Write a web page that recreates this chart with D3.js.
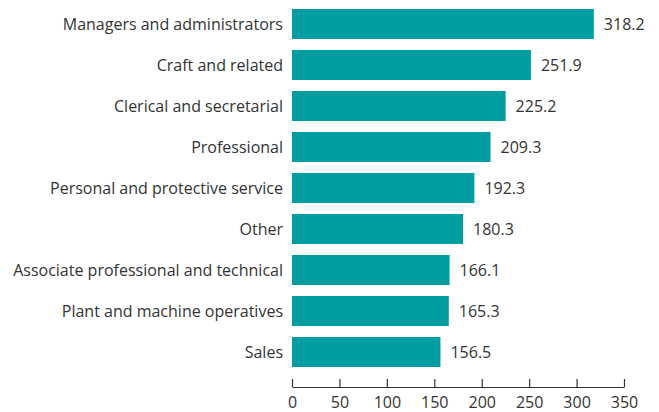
<!DOCTYPE html>
<html>
<head>
<meta charset="utf-8">
<script src="https://cdn.jsdelivr.net/npm/d3@7"></script>
<style>
  html, body { margin: 0; padding: 0; background: #fff; }
  svg { display: block; }
  text { font-family: "Open Sans", "Noto Sans", sans-serif; fill: #333; }
</style>
</head>
<body>
<svg id="chart" width="659" height="412"></svg>
<script>
// Occupational groups and their values
const categories = [
  "Managers and administrators",
  "Craft and related",
  "Clerical and secretarial",
  "Professional",
  "Personal and protective service",
  "Other",
  "Associate professional and technical",
  "Plant and machine operatives",
  "Sales"
];
const values = [318.2, 251.9, 225.2, 209.3, 192.3, 180.3, 166.1, 165.3, 156.5];
const tickValues = [0, 50, 100, 150, 200, 250, 300, 350];

const svg = d3.select("#chart");
const barColor = "#009ea0";
const fontSize = "16px";

const x = d3.scaleLinear().domain([0, 350]).range([292, 624]);
const y = d3.scaleBand()
  .domain(categories)
  .range([-2, 378])
  .paddingInner(0.268)
  .paddingOuter(0.268);

const data = categories.map((c, i) => ({ name: c, value: values[i] }));

// Bars
svg.append("g")
  .selectAll("rect")
  .data(data)
  .join("rect")
  .attr("x", x(0))
  .attr("y", d => y(d.name))
  .attr("width", d => x(d.value) - x(0))
  .attr("height", y.bandwidth())
  .attr("fill", barColor);

// Value labels
svg.append("g")
  .selectAll("text")
  .data(data)
  .join("text")
  .attr("x", d => x(d.value) + 10)
  .attr("y", d => y(d.name) + y.bandwidth() / 2)
  .attr("dy", "0.35em")
  .style("font-size", fontSize)
  .text(d => d.value.toFixed(1));

// Category labels
svg.append("g")
  .selectAll("text")
  .data(data)
  .join("text")
  .attr("x", 283)
  .attr("y", d => y(d.name) + y.bandwidth() / 2)
  .attr("dy", "0.35em")
  .attr("text-anchor", "end")
  .style("font-size", fontSize)
  .text(d => d.name);

// Bottom axis with ticks pointing upward
const axis = svg.append("g")
  .attr("transform", "translate(0,387)")
  .call(d3.axisBottom(x).tickValues(tickValues).tickSize(-8).tickSizeOuter(0).tickPadding(0));

axis.select(".domain").attr("stroke", "#333").attr("stroke-width", 1.2);
axis.selectAll(".tick line").attr("stroke", "#333").attr("stroke-width", 1.2);
axis.selectAll(".tick text")
  .attr("y", 15)
  .attr("dy", "0.35em")
  .style("font-size", fontSize)
  .style("font-family", "\"Open Sans\", \"Noto Sans\", sans-serif")
  .attr("fill", "#333");
</script>
</body>
</html>
